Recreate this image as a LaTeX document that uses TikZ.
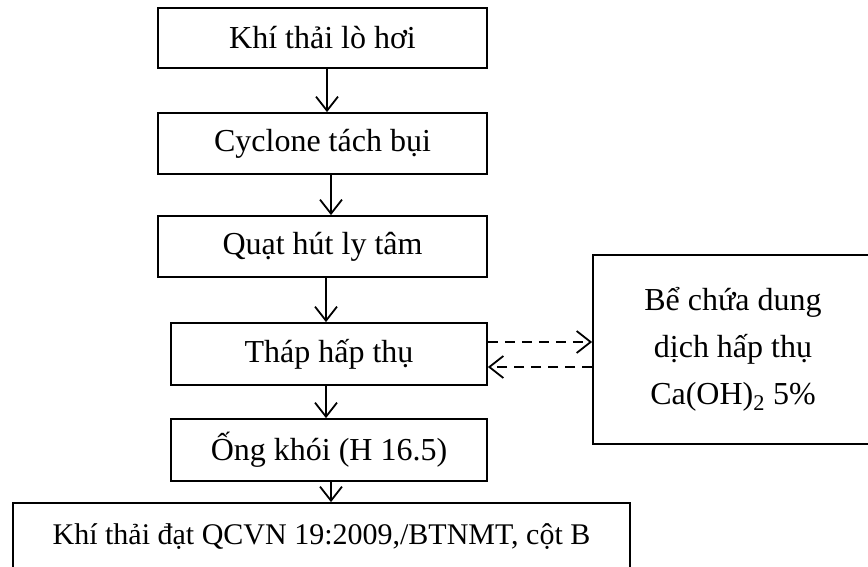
\documentclass[tikz,border=0pt]{standalone}
\usepackage{fontspec}
\setmainfont{Liberation Serif}
\usetikzlibrary{arrows.meta}
\begin{document}
\begin{tikzpicture}[x=1pt,y=-1pt,
  box/.style={draw=black,line width=1.8pt,inner sep=0pt,align=center,font=\fontsize{32}{47}\selectfont},
  arr/.style={line width=1.8pt,-{Straight Barb[length=14pt,width=22pt,line width=1.8pt]}},
  darr/.style={arr,dash pattern=on 10pt off 7pt}]
\clip (0,0) rectangle (868,567);
\fill[white] (0,0) rectangle (868,567);
\node[box,minimum width=329pt,minimum height=60pt] (b1) at (322.5,38) {Khí thải lò hơi};
\node[box,minimum width=329pt,minimum height=61pt] (b2) at (322.5,143.5) {Cyclone tách bụi};
\node[box,minimum width=329pt,minimum height=61pt] (b3) at (322.5,246.5) {Quạt hút ly tâm};
\node[box,minimum width=316pt,minimum height=62pt] (b4) at (329,354) {Tháp hấp thụ};
\node[box,minimum width=316pt,minimum height=62pt] (b5) at (329,450) {Ống khói (H 16.5)};
\node[box,minimum width=617pt,minimum height=68pt,font=\fontsize{30}{36}\selectfont] (b6) at (321.5,537) {Khí thải đạt QCVN 19:2009,/BTNMT, cột B};
\node[box,minimum width=280pt,minimum height=189pt] (rb) at (733,349.5) {Bể chứa dung\\dịch hấp thụ\\Ca(OH)\textsubscript{2} 5\%};
\draw[arr] ([xshift=4.5pt]b1.south) -- ([xshift=4.5pt]b2.north);
\draw[arr] ([xshift=8.5pt]b2.south) -- ([xshift=8.5pt]b3.north);
\draw[arr] ([xshift=3.5pt]b3.south) -- ([xshift=-3pt]b4.north);
\draw[arr] ([xshift=-3pt]b4.south) -- ([xshift=-3pt]b5.north);
\draw[arr] ([xshift=2pt]b5.south) -- ([xshift=9.5pt]b6.north);
\draw[darr] ([yshift=12pt]b4.east) -- ([yshift=12pt]b4.east -| rb.west);
\draw[darr] ([yshift=-13pt]b4.east -| rb.west) -- ([yshift=-13pt]b4.east);
\end{tikzpicture}
\end{document}
